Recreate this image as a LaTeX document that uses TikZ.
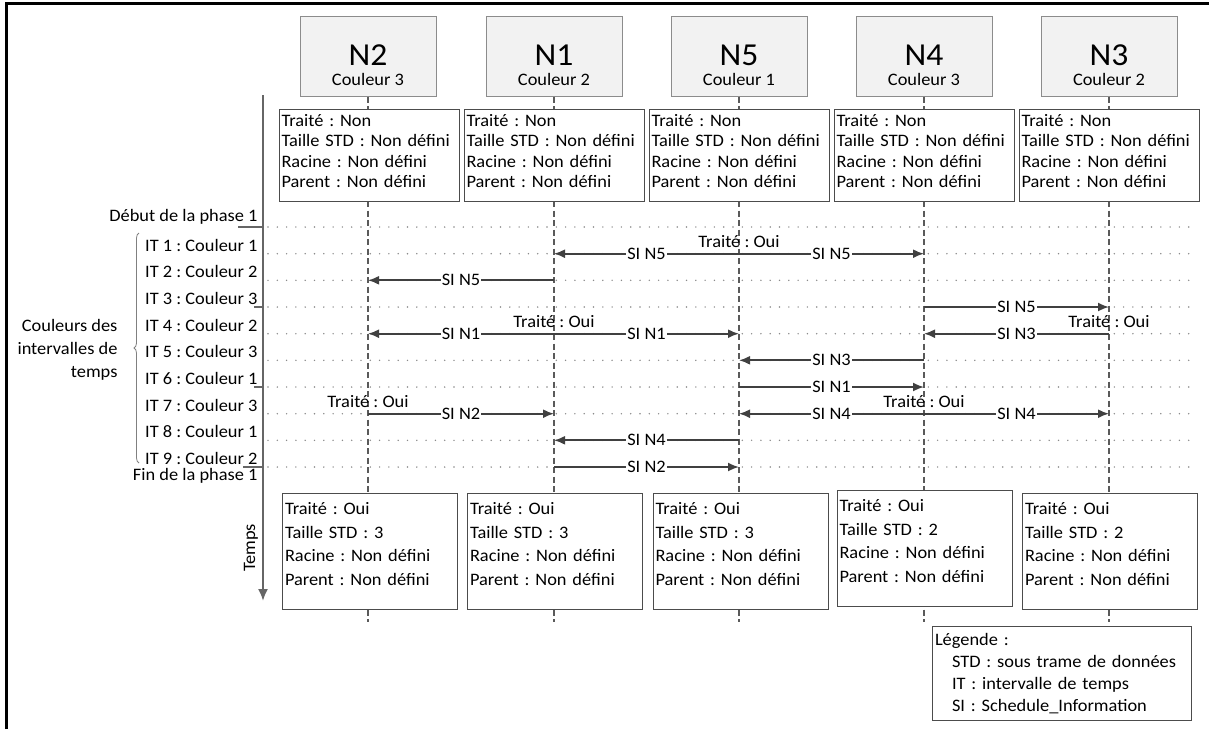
\documentclass[tikz,border=0pt]{standalone}
\usepackage{fontspec}
\setmainfont{Carlito}[FakeStretch=1.05]
\usetikzlibrary{arrows.meta,decorations.pathreplacing}
\frenchspacing

\definecolor{msgcol}{HTML}{404040}
\definecolor{lifecol}{HTML}{5A5A5A}
\definecolor{dotcol}{HTML}{8A8A8A}
\definecolor{headfill}{HTML}{F2F2F2}

\begin{document}
\begin{tikzpicture}[x=1pt, y=-1pt,
    every node/.style={font=\fontsize{17.5}{20.3}\selectfont, text=black},
    headbox/.style={draw=black!45, fill=headfill, line width=1pt, minimum width=136pt, minimum height=80pt, inner sep=0pt},
    statebox/.style={draw=black!70, fill=white, line width=1pt, text width=175pt, inner xsep=2.5pt, inner ysep=3pt, text height=14pt, text depth=72pt, align=left},
    endbox/.style={statebox, text width=170pt, text height=18pt, text depth=92pt, font=\fontsize{17.5}{23.5}\selectfont},
    legendbox/.style={draw=black!70, line width=1pt, text width=254pt, inner xsep=2.5pt, inner ysep=0pt, minimum height=94pt, align=left, font=\fontsize{17.5}{22}\selectfont},
    lifeline/.style={draw=lifecol, line width=1.2pt, dash pattern=on 6pt off 3.5pt},
    rowline/.style={draw=dotcol, line width=1.6pt, line cap=round, dash pattern=on 0pt off 9.3pt},
    tickline/.style={draw=black!60, line width=2pt},
    timeaxis/.style={draw=black!60, line width=2pt, -{Latex[length=12pt,width=10pt]}},
    msg/.style={draw=msgcol, line width=1.8pt, -{Latex[length=11pt,width=9pt]}},
    si/.style={fill=white, inner sep=1pt},
    oui/.style={above=6pt, inner sep=0pt},
    itlabel/.style={anchor=base east},
    ]

    % Frame of the figure
    \coordinate (frameB) at (6.5,729);
    \coordinate (frameC) at (6.5,3);
    \coordinate (frameR) at (1209,3);
    \useasboundingbox (0,0) rectangle (1209,729);
    \draw[line width=3pt] (frameB) -- (frameC) -- (frameR);

    % Rows of the time intervals
    \draw[rowline] (268,227) -- (1195,227);
    \draw[rowline] (268,253.7) -- (1195,253.7);
    \draw[rowline] (268,280.3) -- (1195,280.3);
    \draw[rowline] (268,307) -- (1195,307);
    \draw[rowline] (268,333.7) -- (1195,333.7);
    \draw[rowline] (268,360.3) -- (1195,360.3);
    \draw[rowline] (268,387) -- (1195,387);
    \draw[rowline] (268,413.7) -- (1195,413.7);
    \draw[rowline] (268,440.3) -- (1195,440.3);
    \draw[rowline] (268,467) -- (1195,467);

    \draw[tickline] (238,227) -- (263,227);
    \draw[tickline] (254,307) -- (263,307);
    \draw[tickline] (254,387) -- (263,387);
    \draw[tickline] (243,467) -- (263,467);

    % Time axis
    \coordinate (axisTop) at (263,95);
    \coordinate (axisEnd) at (263,601);
    \draw[timeaxis] (axisTop) -- (axisEnd);
    \node[rotate=90] (temps) at (251,548) {Temps};

    % Headers of the nodes
    \node[headbox] (N2) at (368,56) {};
    \node[headbox] (N1) at (554,56) {};
    \node[headbox] (N5) at (739,56) {};
    \node[headbox] (N4) at (924,56) {};
    \node[headbox] (N3) at (1109,56) {};

    \node[anchor=base, font=\fontsize{32}{32}\selectfont] (N2name) at (368,65) {N2};
    \node[anchor=base, font=\fontsize{32}{32}\selectfont] (N1name) at (554,65) {N1};
    \node[anchor=base, font=\fontsize{32}{32}\selectfont] (N5name) at (739,65) {N5};
    \node[anchor=base, font=\fontsize{32}{32}\selectfont] (N4name) at (924,65) {N4};
    \node[anchor=base, font=\fontsize{32}{32}\selectfont] (N3name) at (1109,65) {N3};

    \node[anchor=base] (N2col) at (368,85) {Couleur 3};
    \node[anchor=base] (N1col) at (554,85) {Couleur 2};
    \node[anchor=base] (N5col) at (739,85) {Couleur 1};
    \node[anchor=base] (N4col) at (924,85) {Couleur 3};
    \node[anchor=base] (N3col) at (1109,85) {Couleur 2};

    % Lifelines
    \coordinate (N2end) at (368,622);
    \coordinate (N1end) at (554,622);
    \coordinate (N5end) at (739,622);
    \coordinate (N4end) at (924,622);
    \coordinate (N3end) at (1109,622);
    \draw[lifeline] (N2) -- (N2end);
    \draw[lifeline] (N1) -- (N1end);
    \draw[lifeline] (N5) -- (N5end);
    \draw[lifeline] (N4) -- (N4end);
    \draw[lifeline] (N3) -- (N3end);

    % States before the phase
    \node[statebox, anchor=north] (N2top) at (369,109) {Traité : Non\\Taille STD : Non défini\\Racine : Non défini\\Parent : Non défini};
    \node[statebox, anchor=north] (N1top) at (554,109) {Traité : Non\\Taille STD : Non défini\\Racine : Non défini\\Parent : Non défini};
    \node[statebox, anchor=north] (N5top) at (739,109) {Traité : Non\\Taille STD : Non défini\\Racine : Non défini\\Parent : Non défini};
    \node[statebox, anchor=north] (N4top) at (924,109) {Traité : Non\\Taille STD : Non défini\\Racine : Non défini\\Parent : Non défini};
    \node[statebox, anchor=north] (N3top) at (1109,109) {Traité : Non\\Taille STD : Non défini\\Racine : Non défini\\Parent : Non défini};

    % States after the phase
    \node[endbox, anchor=north] (N2bot) at (370,493) {Traité : Oui\\Taille STD : 3\\Racine : Non défini\\Parent : Non défini};
    \node[endbox, anchor=north] (N1bot) at (555,493) {Traité : Oui\\Taille STD : 3\\Racine : Non défini\\Parent : Non défini};
    \node[endbox, anchor=north] (N5bot) at (740.5,493) {Traité : Oui\\Taille STD : 3\\Racine : Non défini\\Parent : Non défini};
    \node[endbox, anchor=north] (N4bot) at (924.5,490) {Traité : Oui\\Taille STD : 2\\Racine : Non défini\\Parent : Non défini};
    \node[endbox, anchor=north] (N3bot) at (1110,493) {Traité : Oui\\Taille STD : 2\\Racine : Non défini\\Parent : Non défini};

    % Labels of the phase and of the intervals
    \node[itlabel] (debut) at (261,221) {Début de la phase 1};
    \node[itlabel] (it1) at (261,251) {IT 1 : Couleur 1};
    \node[itlabel] (it2) at (261,277.8) {IT 2 : Couleur 2};
    \node[itlabel] (it3) at (261,304.5) {IT 3 : Couleur 3};
    \node[itlabel] (it4) at (261,331.2) {IT 4 : Couleur 2};
    \node[itlabel] (it5) at (261,357.8) {IT 5 : Couleur 3};
    \node[itlabel] (it6) at (261,384.5) {IT 6 : Couleur 1};
    \node[itlabel] (it7) at (261,411.2) {IT 7 : Couleur 3};
    \node[itlabel] (it8) at (261,437.8) {IT 8 : Couleur 1};
    \node[itlabel] (it9) at (261,464.5) {IT 9 : Couleur 2};
    \node[itlabel] (fin) at (261,480) {Fin de la phase 1};

    \coordinate (braceBot) at (139,463);
    \coordinate (braceTop) at (139,233);
    \draw[draw=black!50, line width=0.8pt, decorate, decoration={brace, amplitude=5pt}] (braceBot) -- (braceTop);
    \node[anchor=east, align=right, font=\fontsize{17.5}{23}\selectfont] (couleurs) at (121,350) {Couleurs des\\intervalles de\\temps};

    % End points of the messages
    \coordinate (N5r1) at (739,253.7);
    \coordinate (N1r1) at (554,253.7);
    \coordinate (N4r1) at (924,253.7);
    \coordinate (N1r2) at (554,280.3);
    \coordinate (N2r2) at (368,280.3);
    \coordinate (N4r3) at (924,307);
    \coordinate (N3r3) at (1109,307);
    \coordinate (N1r4) at (554,333.7);
    \coordinate (N2r4) at (368,333.7);
    \coordinate (N5r4) at (739,333.7);
    \coordinate (N3r4) at (1109,333.7);
    \coordinate (N4r4) at (924,333.7);
    \coordinate (N4r5) at (924,360.3);
    \coordinate (N5r5) at (739,360.3);
    \coordinate (N5r6) at (739,387);
    \coordinate (N4r6) at (924,387);
    \coordinate (N2r7) at (368,413.7);
    \coordinate (N1r7) at (554,413.7);
    \coordinate (N4r7) at (924,413.7);
    \coordinate (N5r7) at (739,413.7);
    \coordinate (N3r7) at (1109,413.7);
    \coordinate (N5r8) at (739,440.3);
    \coordinate (N1r8) at (554,440.3);
    \coordinate (N1r9) at (554,467);
    \coordinate (N5r9) at (739,467);

    % Messages
    \draw[msg] (N5r1) -- node[si] {SI N5} (N1r1);
    \draw[msg] (N5r1) -- node[si] {SI N5} (N4r1);
    \draw[msg] (N1r2) -- node[si] {SI N5} (N2r2);
    \draw[msg] (N4r3) -- node[si] {SI N5} (N3r3);
    \draw[msg] (N1r4) -- node[si] {SI N1} (N2r4);
    \draw[msg] (N1r4) -- node[si] {SI N1} (N5r4);
    \draw[msg] (N3r4) -- node[si] {SI N3} (N4r4);
    \draw[msg] (N4r5) -- node[si] {SI N3} (N5r5);
    \draw[msg] (N5r6) -- node[si] {SI N1} (N4r6);
    \draw[msg] (N2r7) -- node[si] {SI N2} (N1r7);
    \draw[msg] (N4r7) -- node[si] {SI N4} (N5r7);
    \draw[msg] (N4r7) -- node[si] {SI N4} (N3r7);
    \draw[msg] (N5r8) -- node[si] {SI N4} (N1r8);
    \draw[msg] (N1r9) -- node[si] {SI N2} (N5r9);

    % Nodes which become processed
    \node[oui] (ouiN5) at (N5r1) {Traité : Oui};
    \node[oui] (ouiN1) at (N1r4) {Traité : Oui};
    \node[oui] (ouiN3) at (N3r4) {Traité : Oui};
    \node[oui] (ouiN2) at (N2r7) {Traité : Oui};
    \node[oui] (ouiN4) at (N4r7) {Traité : Oui};

    % Legend
    \node[legendbox, anchor=north west] (legend) at (932,626) {Légende :\\\hspace*{17pt}STD : sous trame de données\\\hspace*{17pt}IT : intervalle de temps\\\hspace*{17pt}SI : Schedule\_Information};

\end{tikzpicture}
\end{document}
